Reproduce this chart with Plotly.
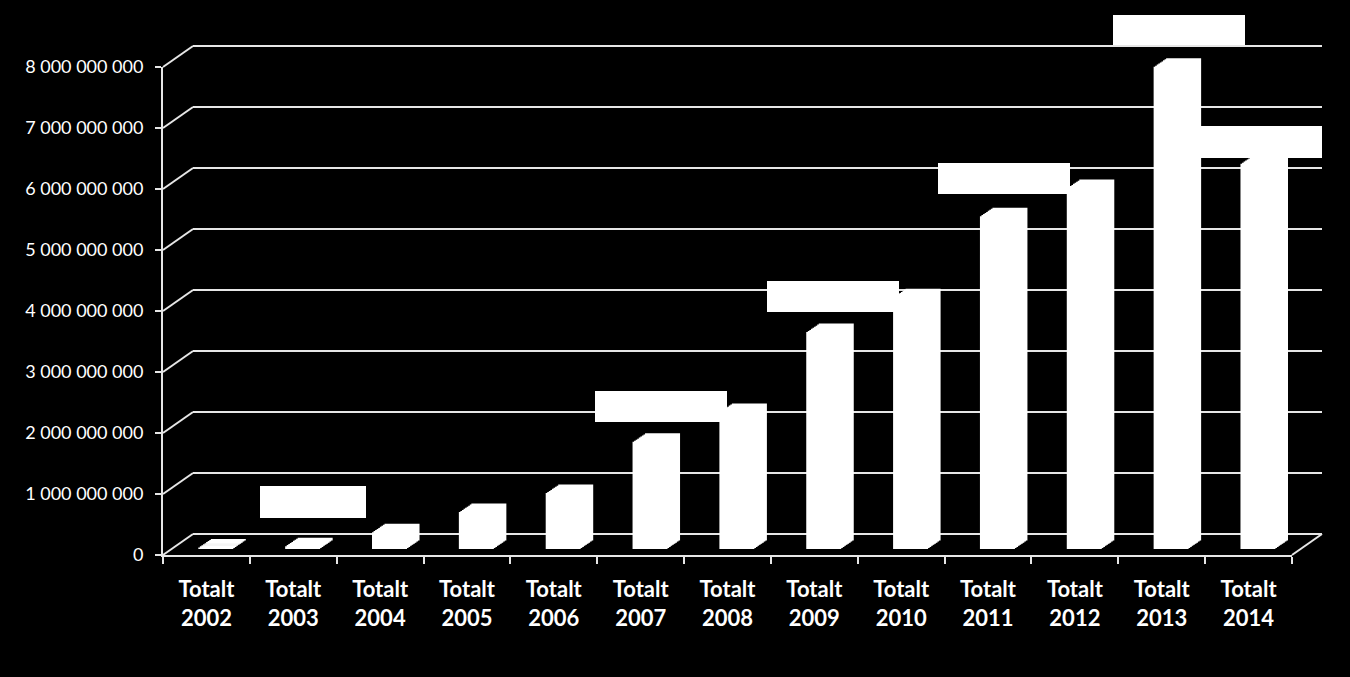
import plotly.graph_objects as go

# ---------------- data ----------------
categories = ["Totalt 2002", "Totalt 2003", "Totalt 2004", "Totalt 2005", "Totalt 2006",
              "Totalt 2007", "Totalt 2008", "Totalt 2009", "Totalt 2010", "Totalt 2011",
              "Totalt 2012", "Totalt 2013", "Totalt 2014"]
values = [0.01e9, 0.03e9, 0.26e9, 0.59e9, 0.90e9, 1.74e9, 2.23e9,
          3.54e9, 4.11e9, 5.44e9, 5.90e9, 7.89e9, 6.30e9]
x_ticktext = ["Totalt<br>2002", "Totalt<br>2003", "Totalt<br>2004", "Totalt<br>2005",
              "Totalt<br>2006", "Totalt<br>2007", "Totalt<br>2008", "Totalt<br>2009",
              "Totalt<br>2010", "Totalt<br>2011", "Totalt<br>2012", "Totalt<br>2013",
              "Totalt<br>2014"]
y_tickvals = [0, 1e9, 2e9, 3e9, 4e9, 5e9, 6e9, 7e9, 8e9]
y_ticktext = ["0", "1 000 000 000", "2 000 000 000", "3 000 000 000", "4 000 000 000",
              "5 000 000 000", "6 000 000 000", "7 000 000 000", "8 000 000 000"]
# categories carrying a (blanked) white data-label box
label_boxes = ["Totalt 2003", "Totalt 2007", "Totalt 2009", "Totalt 2011", "Totalt 2013", "Totalt 2014"]

# ---------------- styling / geometry ----------------
W, H = 1350, 677
X0, X1 = 163, 1292          # front category axis (px)
Y0 = 555                    # front zero line (px)
S = 61 / 1e9                # px per unit
DX, DY = 30, 21             # depth of the floor (px)
LINE = "#e6e6e6"
FONT = "Lato"
box_style = [(10, 29, 106, 32), (11, 21, 132, 31), (9, 21, 132, 31),
             (7, 23, 132, 31), (8, 23, 132, 30), (3, 7, 123, 32)]
N_LAYERS = 9
FRONT_DX, FRONT_DY = 9.4, 6      # front face of the columns
DEPTH_DX, DEPTH_DY = 12.5, 8.5   # column depth


def xdom(shift):
    return [(X0 + shift) / W, (X1 + shift) / W]


def ydom(py_zero, rlo, rhi):
    return [1 - (py_zero - rlo * S) / H, 1 - (py_zero - rhi * S) / H]


fig = go.Figure()
layout = dict(
    width=W, height=H, autosize=False,
    margin=dict(l=0, r=0, t=0, b=0),
    paper_bgcolor="black", plot_bgcolor="rgba(0,0,0,0)",
    template="none", showlegend=False, hovermode=False,
)

# subplot 1: back wall gridlines
layout["xaxis"] = dict(domain=xdom(DX), range=[-0.5, 12.5], visible=False, anchor="y")
layout["yaxis"] = dict(domain=ydom(Y0 - DY, -0.05e9, 8.05e9), range=[-0.05e9, 8.05e9],
                       tickmode="array", tickvals=y_tickvals, showticklabels=False,
                       ticks="", showgrid=True, gridcolor=LINE, gridwidth=2,
                       zeroline=False, showline=False, anchor="x")
fig.add_trace(go.Scatter(x=[None], y=[None], xaxis="x", yaxis="y", showlegend=False))

# subplots 2..: column layers (front face to back face)
for k in range(N_LAYERS):
    n = k + 2
    t = k / (N_LAYERS - 1)
    dx = FRONT_DX + DEPTH_DX * t
    dy = FRONT_DY + DEPTH_DY * t
    layout[f"xaxis{n}"] = dict(domain=xdom(dx), range=[-0.5, 12.5], visible=False,
                               type="category", anchor=f"y{n}")
    layout[f"yaxis{n}"] = dict(domain=ydom(Y0 - dy, 0, 8.5e9), range=[0, 8.5e9],
                               visible=False, anchor=f"x{n}")
    fig.add_trace(go.Bar(x=categories, y=values, xaxis=f"x{n}", yaxis=f"y{n}",
                         width=0.38, marker=dict(color="white",
                                                 line=dict(color="white", width=2)),
                         showlegend=False, hoverinfo="skip"))

# front axes
nf = N_LAYERS + 2
layout[f"xaxis{nf}"] = dict(domain=xdom(0), range=[-0.5, 12.5], type="category",
                            tickmode="array", tickvals=categories, ticktext=x_ticktext,
                            tickson="boundaries", ticks="outside", ticklen=7, tickwidth=2,
                            tickcolor=LINE, showline=True, linecolor=LINE, linewidth=2,
                            showgrid=False, zeroline=False, ticklabelstandoff=14,
                            tickfont=dict(family=FONT, size=22, color="white", weight="bold"),
                            anchor=f"y{nf}")
layout[f"yaxis{nf}"] = dict(domain=ydom(Y0, 0, 8e9), range=[0, 8e9],
                            tickmode="array", tickvals=y_tickvals, ticktext=y_ticktext,
                            ticks="outside", ticklen=6, tickwidth=2, tickcolor=LINE,
                            showline=True, linecolor=LINE, linewidth=2, showgrid=False,
                            zeroline=False, ticklabelstandoff=8,
                            tickfont=dict(family=FONT, size=18, color="white"),
                            anchor=f"x{nf}")
fig.add_trace(go.Scatter(x=categories, y=values, xaxis=f"x{nf}", yaxis=f"y{nf}",
                         mode="markers", marker=dict(opacity=0), showlegend=False,
                         hoverinfo="skip"))

fig.update_layout(**layout)

# perspective connectors: front tick -> back wall gridline (axis furniture, paper coords)
for v in y_tickvals:
    yp = 1 - (Y0 - v * S) / H
    fig.add_shape(type="line", xref="paper", yref="paper",
                  x0=X0 / W, x1=(X0 + DX) / W, y0=yp, y1=yp + DY / H,
                  line=dict(color=LINE, width=2))
yp0 = 1 - Y0 / H
fig.add_shape(type="line", xref="paper", yref="paper",
              x0=X1 / W, x1=(X1 + DX) / W, y0=yp0, y1=yp0 + DY / H,
              line=dict(color=LINE, width=2))

# blanked data-label boxes
for cat, (xs, ys, w, h) in zip(label_boxes, box_style):
    v = values[categories.index(cat)]
    fig.add_annotation(x=cat, y=v, xref="x2", yref="y2", text=" ", showarrow=False,
                       bgcolor="white", width=w, height=h, borderpad=0, borderwidth=0,
                       xanchor="center", yanchor="bottom", xshift=xs, yshift=ys,
                       font=dict(size=1, color="white"))

fig.write_html("out.html",
               config={"displayModeBar": False, "staticPlot": True},
               post_script="document.body.style.margin='0';"
                           "document.body.style.background='black';"
                           "document.body.style.overflow='hidden';")
